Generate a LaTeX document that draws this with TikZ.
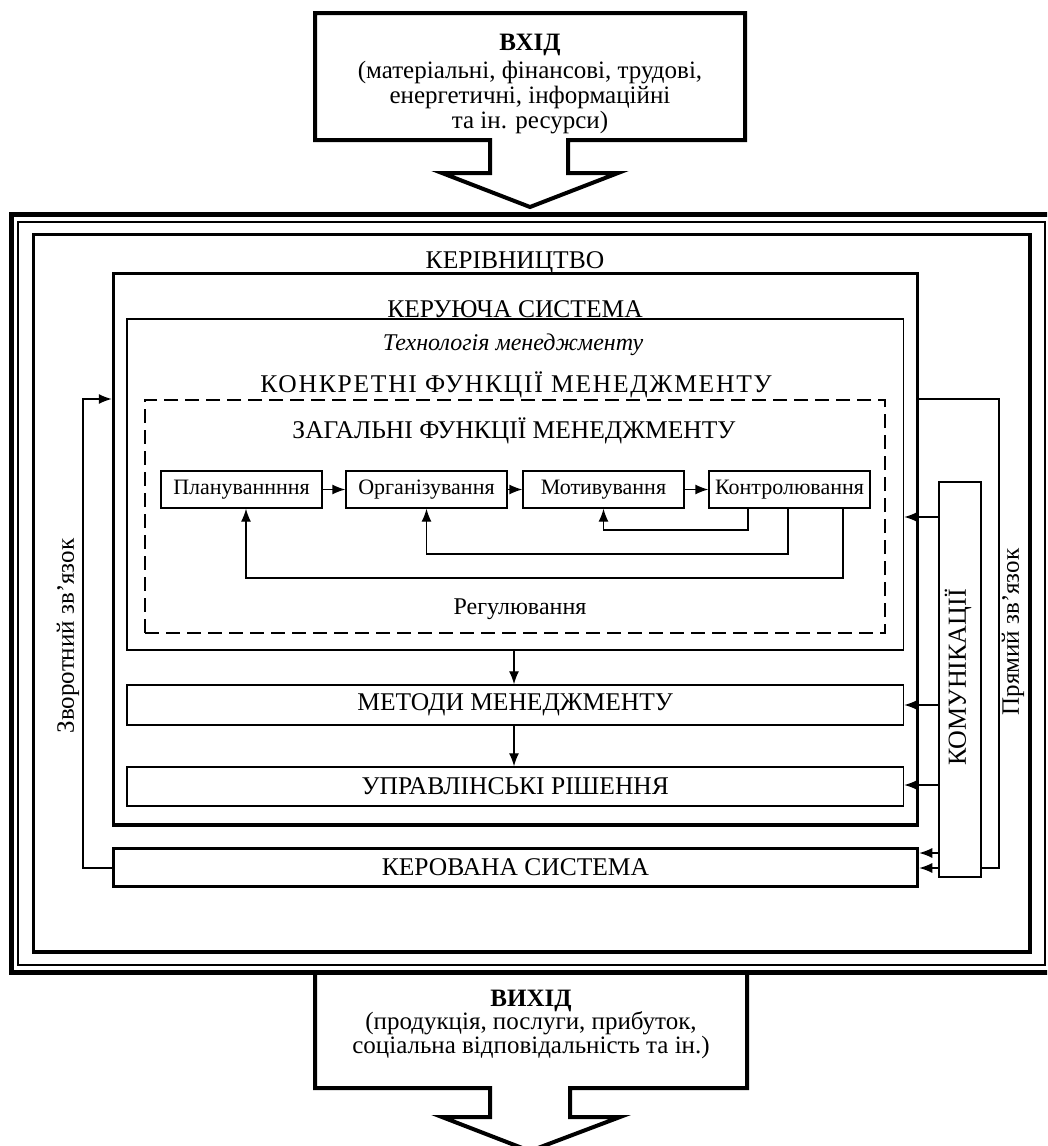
\documentclass[tikz,border=0pt]{standalone}
\usepackage{fontspec}
\setmainfont{Liberation Serif}
\usetikzlibrary{arrows.meta}
\newcommand\fszCap{\fontsize{25.5}{27}\selectfont}
\newcommand\fszWide{\fontsize{25.5}{27}\selectfont\addfontfeature{LetterSpace=7}}
\newcommand\fszFn{\fontsize{22}{24}\selectfont}
\newcommand\fszReg{\fontsize{24}{26}\selectfont}
\newcommand\fszIO{\fontsize{25}{21}\selectfont}
\newcommand\fszIOb{\fontsize{25}{22.5}\selectfont}
\newcommand\fszRot{\fontsize{25}{27}\selectfont}
\newcommand\fszKom{\fontsize{26}{28}\selectfont}
\newcommand\fszIt{\fontsize{24}{26}\selectfont\itshape}
\begin{document}
\begin{tikzpicture}[x=1pt,y=-1pt,
  frame/.style={draw, inner sep=0pt},
  lbl/.style={anchor=base, inner sep=0pt, font=\fszCap},
  fnbox/.style={draw, line width=1.3pt, minimum width=161pt, minimum height=37pt, inner sep=0pt, font=\fszFn},
  con/.style={line width=1.3pt, -{Latex[length=13pt,width=10pt]}},
  bigarrow/.style={line width=4pt, line join=miter},
  rotlbl/.style={rotate=90, inner sep=0pt},
]
\useasboundingbox (0,0) rectangle (1047,1146);
\clip (0,0) rectangle (1047,1146);

% input arrow
\draw[bigarrow] (315,13) -- (745,13) -- (745,140) -- (568,140) -- (568,173) -- (618,173) -- (530,207) -- (442,173) -- (490,173) -- (490,140) -- (315,140) -- cycle;
\node[font=\fszIO, align=center, inner sep=0pt] (inp) at (530,84)
  {\textbf{ВХІД}\\[4pt](матеріальні, фінансові, трудові,\\[1pt]енергетичні, інформаційні\\[1pt]та ін. ресурси)};

% output arrow
\draw[bigarrow] (315,972) -- (315,1088) -- (490,1088) -- (490,1117) -- (442,1117) -- (530,1151) -- (620,1117) -- (570,1117) -- (570,1088) -- (747,1088) -- (747,972);
\node[font=\fszIOb, align=center, inner sep=0pt] (outp) at (531,1024)
  {\textbf{ВИХІД}\\[-1pt](продукція, послуги, прибуток,\\соціальна відповідальність та ін.)};

% frames
\node[frame, line width=5pt, minimum width=1039.5pt, minimum height=757.5pt] (f1) at (531.25,593.25) {};
\node[frame, line width=2pt, minimum width=1026.2pt, minimum height=743.5pt] (f2) at (531.4,593.25) {};
\node[frame, line width=3.5pt, minimum width=996.5pt, minimum height=717.5pt] (f3) at (531.75,593.25) {};
\node[frame, line width=3.5pt, minimum width=804pt, minimum height=551.5pt] (f4) at (515.5,549.25) {};
\node[frame, line width=1.5pt, minimum width=776.5pt, minimum height=331pt] (f5) at (515.25,484.5) {};
\node[frame, line width=1.3pt, dash pattern=on 14pt off 7pt, minimum width=740pt, minimum height=233pt] (f6) at (515,516.5) {};
\node[frame, line width=1.5pt, minimum width=776.5pt, minimum height=40pt, font=\fszCap] (met) at (515.25,705) {МЕТОДИ МЕНЕДЖМЕНТУ};
\node[frame, line width=1.5pt, minimum width=776.5pt, minimum height=39pt, font=\fszCap] (rish) at (515.25,786.5) {УПРАВЛІНСЬКІ РІШЕННЯ};
\node[frame, line width=3.5pt, minimum width=804pt, minimum height=38pt, font=\fszCap] (ker) at (515.5,867.5) {КЕРОВАНА СИСТЕМА};

% labels
\node[lbl] (tk) at (515,268) {КЕРІВНИЦТВО};
\node[lbl] (tks) at (515,317) {КЕРУЮЧА СИСТЕМА};
\node[lbl, font=\fszIt] (tt) at (513,350) {Технологія менеджменту};
\node[lbl, font=\fszWide] (tkf) at (516,392) {КОНКРЕТНІ ФУНКЦІЇ МЕНЕДЖМЕНТУ};
\node[lbl] (tzf) at (514,438) {ЗАГАЛЬНІ ФУНКЦІЇ МЕНЕДЖМЕНТУ};
\node[lbl, font=\fszReg] (treg) at (520,614) {Регулювання};

% function boxes
\node[fnbox] (plan) at (241.5,489.5) {Плануваннння};
\node[fnbox] (org) at (426.5,489.5) {Організування};
\node[fnbox] (motiv) at (603.5,489.5) {Мотивування};
\node[fnbox] (kontr) at (789.5,489.5) {Контролювання};
\draw[con] (plan) -- (org);
\draw[con] (org) -- (motiv);
\draw[con] (motiv) -- (kontr);

\coordinate (c1) at (748,530);
\coordinate (c2) at (788,554);
\coordinate (c3) at (843,578);
\coordinate (c3b) at (246,578);
\draw[con] (kontr.south -| c1) -- (c1) -| (motiv.south);
\draw[con] (kontr.south -| c2) -- (c2) -| (org.south);
\draw[con] (kontr.south -| c3) -- (c3) -- (c3b) -- (plan.south -| c3b);

% vertical arrows
\coordinate (vx) at (514,0);
\draw[con] (f5.south -| vx) -- (met.north -| vx);
\draw[con] (met.south -| vx) -- (rish.north -| vx);

% feedback loops
\coordinate (pt) at (999,399);
\coordinate (pb) at (999,868);
\coordinate (zt) at (83,399);
\coordinate (zb) at (83,868);
\draw[con] (f4.east |- pt) -- (pt) -- (pb) -- (ker.east |- pb);
\draw[con] (ker.west |- zb) -- (zb) -- (zt) -- (f4.west |- zt);
\node[rotlbl, font=\fszRot] (zvl) at (68,636) {Зворотний зв’язок};
\node[rotlbl, font=\fszRot] (prl) at (1013,632) {Прямий зв’язок};

% communications
\node[draw, line width=1.3pt, fill=white, minimum width=42pt, minimum height=395pt] (kom) at (960,679.5) {};
\node[rotlbl, font=\fszKom] (komt) at (958,677.5) {КОМУНІКАЦІЇ};
\coordinate (r1) at (930,517);
\coordinate (r2) at (930,705);
\coordinate (r3) at (930,785);
\coordinate (r4) at (930,853);
\draw[con] (kom.west |- r1) -- (f5.east |- r1);
\draw[con] (kom.west |- r2) -- (met.east |- r2);
\draw[con] (kom.west |- r3) -- (rish.east |- r3);
\draw[con] (kom.west |- r4) -- (ker.east |- r4);
\end{tikzpicture}
\end{document}
